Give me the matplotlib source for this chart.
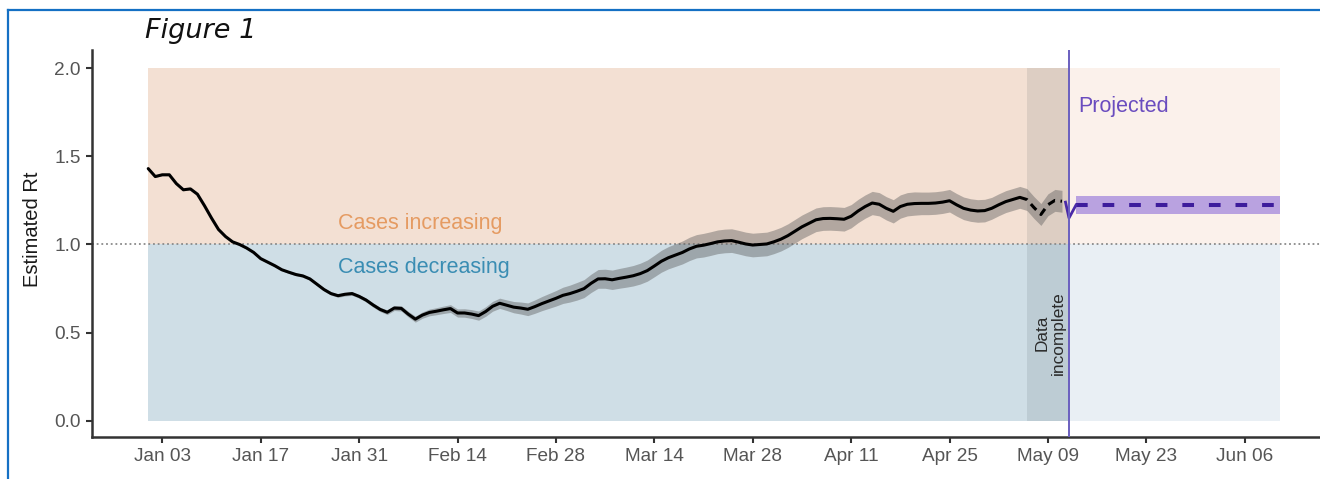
import numpy as np
import pandas as pd
import matplotlib
matplotlib.use("Agg")
import matplotlib.pyplot as plt
import matplotlib.dates as mdates
from matplotlib.lines import Line2D

plt.rcParams['font.family'] = ['Liberation Sans', 'DejaVu Sans']

# ---- data -------------------------------------------------------------
# Daily Rt estimate from 2021-01-01 to 2021-05-11
rt_first_day = "2021-01-01"
rt_values = [
    # Jan
    1.43, 1.385, 1.395, 1.395, 1.345, 1.31, 1.315, 1.285, 1.22, 1.15,
    1.085, 1.045, 1.015, 1.0, 0.98, 0.955, 0.92, 0.90, 0.88, 0.857,
    0.843, 0.83, 0.822, 0.805, 0.775, 0.745, 0.722, 0.71, 0.718, 0.722,
    0.706,
    # Feb
    0.685, 0.657, 0.632, 0.616, 0.64, 0.638, 0.605, 0.577, 0.60, 0.615,
    0.622, 0.63, 0.637, 0.612, 0.612, 0.606, 0.597, 0.62, 0.65, 0.667,
    0.656, 0.645, 0.64, 0.633, 0.648, 0.665, 0.68, 0.695,
    # Mar
    0.712, 0.722, 0.735, 0.75, 0.78, 0.805, 0.806, 0.80, 0.808, 0.815,
    0.823, 0.835, 0.852, 0.878, 0.905, 0.925, 0.94, 0.955, 0.975, 0.99,
    0.996, 1.005, 1.015, 1.02, 1.022, 1.013, 1.003, 0.997, 1.0, 1.003,
    1.015,
    # Apr
    1.03, 1.05, 1.075, 1.10, 1.12, 1.14, 1.147, 1.148, 1.146, 1.143,
    1.16, 1.19, 1.215, 1.235, 1.228, 1.205, 1.188, 1.215, 1.228, 1.232,
    1.233, 1.233, 1.235, 1.24, 1.248, 1.225, 1.205, 1.195, 1.19, 1.192,
    # May
    1.205, 1.225, 1.243, 1.255, 1.267, 1.255, 1.21, 1.17, 1.225, 1.25,
    1.245,
]
# Half-width of the credible interval around each daily estimate
rt_halfwidth = (
    [0.005] * 10 + [0.006] * 10
    + [0.007, 0.007, 0.008, 0.008, 0.008, 0.009, 0.009, 0.009, 0.010, 0.010]
    + [0.010, 0.011, 0.012, 0.012, 0.013, 0.014, 0.015, 0.016, 0.017, 0.018]
    + [0.019, 0.020, 0.021, 0.022, 0.023, 0.024, 0.025, 0.026, 0.027, 0.028]
    + [0.029, 0.030, 0.032, 0.034, 0.036, 0.038, 0.040, 0.042, 0.044, 0.046]
    + [0.048, 0.050, 0.051, 0.052, 0.053, 0.054, 0.055, 0.056, 0.057, 0.058]
    + [0.059, 0.060, 0.061, 0.062, 0.063, 0.064, 0.065, 0.066, 0.066, 0.067]
    + [0.067] * 20 + [0.066] * 10 + [0.064] * 10 + [0.062] * 11
)

last_complete_day = "2021-05-05"
incomplete_start = "2021-05-06"
projection_start = "2021-05-12"
projection_end = "2021-06-11"

# Projection: link from last estimate, then flat projected Rt with band
link_dates = ["2021-05-11 12:00", "2021-05-12 00:00", "2021-05-13 00:00"]
link_values = [1.24, 1.15, 1.224]
proj_dates = ["2021-05-13", "2021-06-11"]
proj_values = [1.224, 1.224]
proj_lower = [1.17, 1.17]
proj_upper = [1.275, 1.275]

x_ticks = pd.date_range("2021-01-03", "2021-06-06", freq="14D")
y_ticks = [0.0, 0.5, 1.0, 1.5, 2.0]

# ---- figure -----------------------------------------------------------
W, H = 1320, 479
fig = plt.figure(figsize=(W / 100, H / 100), dpi=100)
ax = fig.add_axes([92 / W, (H - 437) / H, (W - 92) / W, (437 - 50) / H])

dates = pd.date_range(rt_first_day, periods=len(rt_values), freq="D")
rt = np.array(rt_values)
hw = np.array(rt_halfwidth)
xd = mdates.date2num(dates)

d = lambda s: mdates.date2num(pd.Timestamp(s))

peach, blue = "#f3e0d3", "#cfdee6"
peach_l, blue_l = "#fbf1eb", "#e9eff4"

# background regions
ax.fill_between([d(rt_first_day), d(projection_start)], 1, 2, color=peach, lw=0, zorder=0)
ax.fill_between([d(rt_first_day), d(projection_start)], 0, 1, color=blue, lw=0, zorder=0)
ax.fill_between([d(projection_start), d(projection_end)], 1, 2, color=peach_l, lw=0, zorder=0)
ax.fill_between([d(projection_start), d(projection_end)], 0, 1, color=blue_l, lw=0, zorder=0)
# incomplete-data window
ax.fill_between([d(incomplete_start), d(projection_start)], 0, 2,
                color="#4a555c", alpha=0.13, lw=0, zorder=0.5)

ax.axhline(1.0, color="#8a8a8a", lw=1.3, ls=(0, (1, 1.6)), zorder=1)

# credible band + estimate
ax.fill_between(xd, rt - hw, rt + hw, color="#5a5a5a", alpha=0.42, lw=0, zorder=2)
solid = dates <= pd.Timestamp(last_complete_day)
dashed = dates >= pd.Timestamp(last_complete_day)
ax.plot(xd[solid], rt[solid], color="black", lw=2.2, solid_capstyle="round",
        solid_joinstyle="round", zorder=3)
ax.plot(xd[dashed], rt[dashed], color="black", lw=2.2, ls=(0, (2.6, 1.8)), zorder=3)

# projection
pxd = mdates.date2num(pd.to_datetime(proj_dates))
ax.fill_between(pxd, proj_lower, proj_upper, color="#b9a2e0", lw=0, zorder=2)
ax.plot(pxd, proj_values, color="#3d1c9c", lw=2.9, ls=(0, (2.9, 3.7)), zorder=3)
ax.plot(mdates.date2num(pd.to_datetime(link_dates)), link_values,
        color="#4a2aa8", lw=2.0, zorder=3)
ax.axvline(d(projection_start), color="#6a5fbf", lw=1.4, zorder=4)

# annotations
ax.text(d("2021-01-28"), 1.088, "Cases increasing", color="#e59b62",
        fontsize=15.5, ha="left", va="baseline", zorder=5)
ax.text(d("2021-01-28"), 0.837, "Cases decreasing", color="#3a8db3",
        fontsize=15.5, ha="left", va="baseline", zorder=5)
ax.text(d("2021-05-13 08:00"), 1.752, "Projected", color="#6a4cbf",
        fontsize=15.5, ha="left", va="baseline", zorder=5)
ax.text(d("2021-05-09 07:00"), 0.5, "Data\nincomplete", color="#2b2b2b",
        fontsize=12.4, rotation=90, ha="center", va="center",
        multialignment="center", linespacing=1.1, zorder=5)

# axes styling
ax.set_xlim(d("2020-12-24"), d("2021-06-16 17:00"))
ax.set_ylim(-0.0907, 2.102)
ax.set_xticks(mdates.date2num(x_ticks))
ax.set_xticklabels([t.strftime("%b %d") for t in x_ticks])
ax.set_yticks(y_ticks)
ax.set_yticklabels([f"{v:.1f}" for v in y_ticks])
for s in ("top", "right"):
    ax.spines[s].set_visible(False)
for s in ("left", "bottom"):
    ax.spines[s].set_color("#333333")
    ax.spines[s].set_linewidth(1.8)
ax.tick_params(axis="both", colors="#333333", length=4, width=1.5,
               labelsize=13.7, labelcolor="#555555", pad=4)
ax.set_facecolor("white")

fig.text(33 / W, 1 - 229 / H, "Estimated Rt", rotation=90, ha="center",
         va="center", fontsize=14.5, color="#1a1a1a")
fig.text(145 / W, 1 - 38 / H, "Figure 1", family="DejaVu Sans", style="italic",
         fontsize=19.5, ha="left", va="baseline", color="#111111")

# page frame
frame_c = "#1570c4"
fig.add_artist(Line2D([8 / W, 8 / W], [0, 1 - 10 / H], transform=fig.transFigure,
                      color=frame_c, lw=1.6))
fig.add_artist(Line2D([8 / W, 1], [1 - 10 / H, 1 - 10 / H], transform=fig.transFigure,
                      color=frame_c, lw=1.6))

fig.savefig("out.png", dpi=100, facecolor="white")
